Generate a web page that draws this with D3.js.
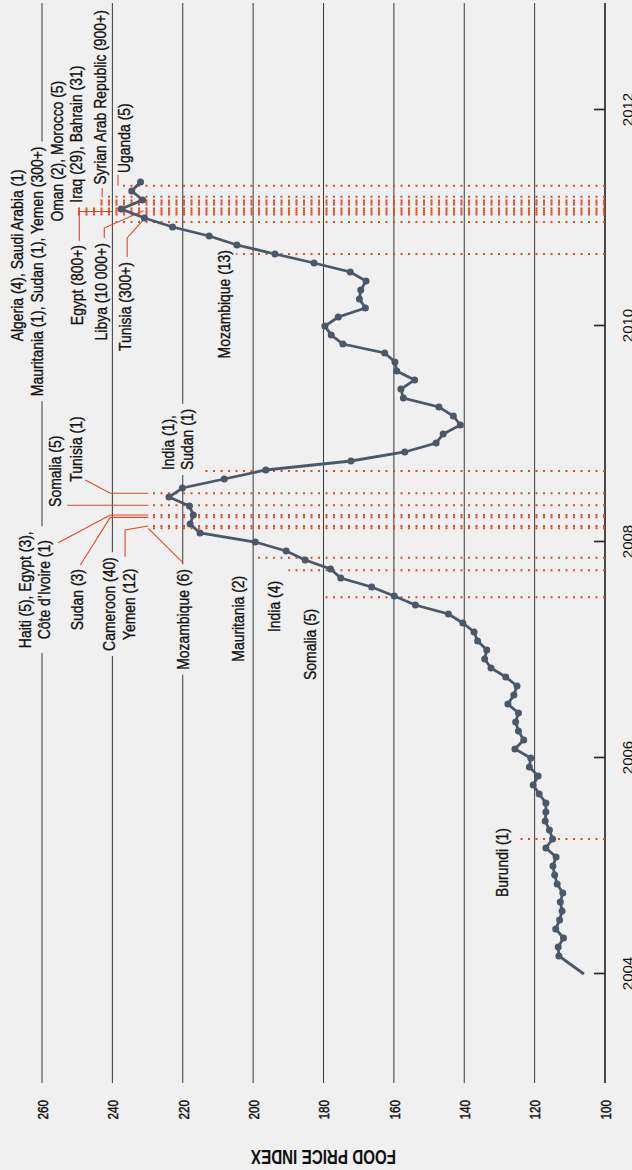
<!DOCTYPE html>
<html><head><meta charset="utf-8">
<script src="https://cdn.jsdelivr.net/npm/d3@7"></script>
<style>
html,body{margin:0;padding:0;background:#f0f0f0;}
svg{display:block;}
text{font-family:"Liberation Sans",Arial,sans-serif;}
</style></head><body>
<svg id="chart" width="632" height="1170"></svg>
<script>
// months since January 2004
const months = [0,2,3,4,5,6,7,8,9,10,11,12,13,14,15,16,17,18,19,20,21,22,23,24,25,26,27,28,29,30,31,32,33,34,35,36,37,38,39,40,41,42,43,44,45,46,47,48,49,50,51,52,53,54,55,56,57,58,59,60,61,62,63,64,65,66,67,68,69,70,71,72,73,74,75,76,77,78,79,80,81,82,83,84,85,86,87,88];
const foodIndex = [106.0,113.1,113.3,111.8,114.0,112.9,112.2,112.7,112.0,113.6,114.3,114.8,113.9,116.8,114.9,115.8,117.0,116.8,116.8,118.7,120.4,119.0,121.5,121.1,125.6,123.1,124.6,125.4,124.6,127.6,125.9,125.0,128.2,132.4,134.2,133.6,136.2,137.2,140.4,144.5,153.9,159.9,166.3,175.1,178.0,185.2,190.6,199.4,215.1,217.9,217.0,218.1,223.9,220.1,208.2,196.4,172.2,156.9,148.0,146.0,141.1,143.1,147.2,157.3,158.0,154.1,159.2,159.7,162.6,174.5,177.8,179.6,175.8,168.1,169.8,169.4,167.9,172.4,182.7,193.8,204.6,212.5,222.9,230.9,237.5,231.4,234.5,232.0];

const valueTicks = [100,120,140,160,180,200,220,240,260];
const yearTicks = [2004,2006,2008,2010,2012];

// riot dates (months since Jan 2004) and the index value where the dotted marker starts
const riotMonths = [15.0,41.86,44.86,46.26,49.52,49.78,50.74,51.0,52.08,53.41,55.89,80.0,83.56,84.39,84.61,84.83,85.06,85.5,85.72,85.94,86.37,87.59];
const riotFrom   = [125.1,179.9,190.0,199.9,229.8,229.8,229.8,229.8,229.8,229.8,215.1,204.8,239.2,250.0,250.0,250.0,250.0,244.9,244.9,244.9,242.9,238.4];

// labels: text lines, anchor month, value of first line, text anchor
const labelLines = [
  ["Burundi (1)"],["Somalia (5)"],["India (4)"],["Mauritania (2)"],["Mozambique (6)"],
  ["Cameroon (40)"],["Yemen (12)"],["Sudan (3)"],["Haiti (5), Egypt (3),","Côte d\u2019Ivoire (1)"],
  ["Somalia (5)"],["Tunisia (1)"],["India (1),","Sudan (1)"],
  ["Algeria (4), Saudi Arabia (1)"],["Mauritania (1), Sudan (1), Yemen (300+)"],
  ["Oman (2), Morocco (5)"],["Iraq (29), Bahrain (31)"],["Syrian Arab Republic (900+)"],["Uganda (5)"],
  ["Egypt (800+)"],["Libya (10 000+)"],["Tunisia (300+)"],["Mozambique (13)"]
];
const labelMonth = [8.56,32.67,38.0,34.7,33.8,35.9,37.1,38.2,42.7,51.9,54.7,56.0,70.3,64.2,83.6,85.7,87.7,89.0,81.0,81.2,79.1,68.4];
const labelValue = [129.3,183.8,194.0,204.3,219.8,240.9,235.2,250.0,264.8,256.3,250.3,224.2,267.2,261.5,255.7,250.3,243.5,236.6,250.0,243.2,236.4,208.2];
const labelAnchor = ["start","start","start","start","start","start","start","start","middle","start","start","start","start","start","start","start","start","start","end","end","end","start"];

// leader lines: [month, value] pairs
const leaders = [
  [[54.89,247.7],[53.41,240.6],[53.41,229.8]],
  [[52.08,252.8],[52.08,229.8]],
  [[47.92,255.4],[51.0,240.6],[51.0,229.8]],
  [[45.44,249.1],[50.74,240.6],[50.74,229.8]],
  [[46.37,236.4],[49.33,236.4],[49.78,229.8]],
  [[45.67,219.9],[49.52,229.8]],
  [[81.44,249.4],[84.72,249.4],[84.72,240.1]],
  [[81.78,242.3],[82.89,242.3],[84.81,231.2]],
  [[79.67,235.8],[81.78,235.8],[83.78,231.2]],
  [[87.33,242.9],[86.37,242.9]],
  [[88.78,238.4],[87.59,238.4]]
];

const svg = d3.select("#chart");
svg.append("rect").attr("width",632).attr("height",1170).attr("fill","#f0f0f0");
const g = svg.append("g").attr("transform","translate(0,1170) rotate(-90)");

const x = d3.scaleLinear().domain([0,96]).range([196,1060]);
const y = d3.scaleLinear().domain([100,260]).range([605,42]);
const X0 = 87, X1 = 1167;
const NARROW = 0.82;

// gridlines
g.selectAll(".grid").data(valueTicks.filter(v=>v>100)).join("line")
  .attr("x1",X0).attr("x2",X1).attr("y1",d=>y(d)).attr("y2",d=>y(d))
  .attr("stroke","#3a3a3a").attr("stroke-width",1);

// value axis labels
const yAxis = d3.axisLeft(y).tickValues(valueTicks).tickSize(0).tickPadding(0);
const ya = g.append("g").attr("transform",`translate(70,0)`).call(yAxis);
ya.select(".domain").remove();
ya.selectAll(".tick text").each(function(){
  d3.select(this).attr("x",0).attr("dy","0.35em").attr("text-anchor","end")
   .attr("font-size",15).attr("fill","#111").attr("stroke","#111").attr("stroke-width",0.45)
   .attr("font-family","'Liberation Sans',sans-serif")
   .attr("transform",`scale(0.78,1)`);
});

// axis title (upside down)
g.append("text").attr("transform",`translate(13,${(y(100)+y(260))/2}) rotate(-90) scale(0.76,1)`)
  .attr("text-anchor","middle").attr("dominant-baseline","central")
  .attr("font-size",20).attr("font-weight","bold").attr("fill","#111").text("FOOD PRICE INDEX");

// labels with background (breaks gridlines)
const labG = g.append("g");
const labBg = labG.append("g");
const labTx = labG.append("g");
labelLines.forEach((lines,i)=>{
  const t = labTx.append("g");
  lines.forEach((s,j)=>{
    t.append("text")
      .attr("transform",`translate(${x(labelMonth[i])},${y(labelValue[i])+j*19}) scale(${NARROW},1)`)
      .attr("dy","0.35em").attr("text-anchor",labelAnchor[i])
      .attr("font-size",17).attr("fill","#111").attr("stroke","#111").attr("stroke-width",0.35).text(s);
  });
  const b = t.node().getBBox();
  labBg.append("rect").attr("x",b.x-5).attr("y",b.y+1).attr("width",b.width+10).attr("height",b.height-2)
    .attr("fill","#f0f0f0");
});

// time axis
g.append("line").attr("x1",X0).attr("x2",X1).attr("y1",y(100)).attr("y2",y(100))
  .attr("stroke","#2a2a2a").attr("stroke-width",1.7);
const xAxis = d3.axisBottom(x).tickValues(yearTicks.map(yr=>(yr-2004)*12))
  .tickFormat(d=>String(2004+d/12)).tickSizeInner(-11).tickSizeOuter(0).tickPadding(17);
const xa = g.append("g").attr("transform",`translate(0,${y(100)})`).call(xAxis);
xa.select(".domain").remove();
xa.selectAll("line").attr("stroke","#2a2a2a").attr("stroke-width",1.7);
xa.selectAll("text").attr("font-size",15).attr("fill","#111").attr("font-family","'Liberation Sans',sans-serif");

// riot markers
const red = "#dc4a26";
g.selectAll(".riot").data(riotMonths).join("line")
  .attr("x1",d=>x(d)).attr("x2",d=>x(d)).attr("y1",y(100)).attr("y2",(d,i)=>y(riotFrom[i]))
  .attr("stroke",red).attr("stroke-width",2).attr("stroke-dasharray","2 5.5");

// leaders
const lg = d3.line().x(d=>x(d[0])).y(d=>y(d[1]));
g.selectAll(".leader").data(leaders).join("path")
  .attr("d",lg).attr("fill","none").attr("stroke",red).attr("stroke-width",1.1);

// data line
const data = months.map((m,i)=>({m, v: foodIndex[i]}));
const line = d3.line().x(d=>x(d.m)).y(d=>y(d.v));
const slate = "#4b5868";
g.append("path").datum(data).attr("d",line).attr("fill","none").attr("stroke",slate).attr("stroke-width",2.8);
g.selectAll(".dot").data(data.slice(1)).join("circle")
  .attr("cx",d=>x(d.m)).attr("cy",d=>y(d.v)).attr("r",3.5).attr("fill",slate);
</script>
</body></html>
